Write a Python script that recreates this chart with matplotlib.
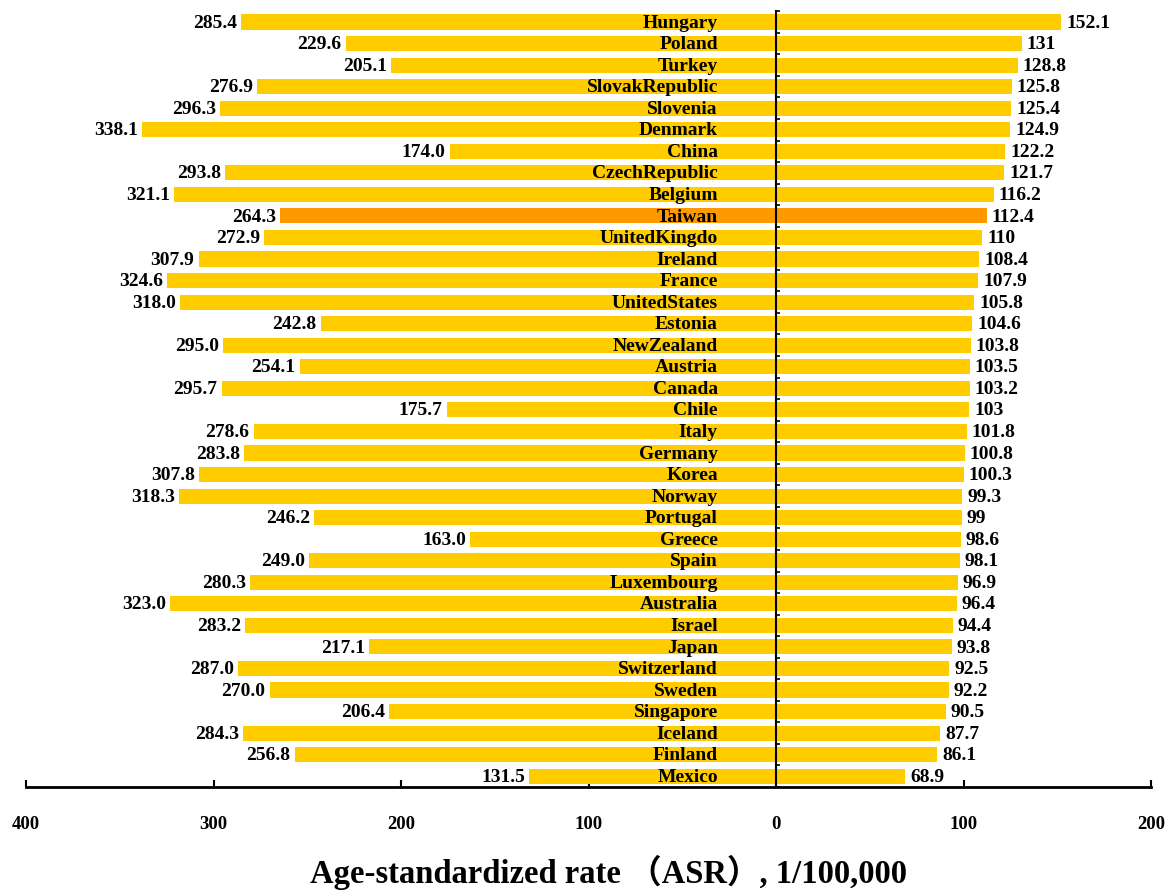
import numpy as np
import matplotlib
matplotlib.use("Agg")
import matplotlib.pyplot as plt

countries = ["Hungary", "Poland", "Turkey", "SlovakRepublic", "Slovenia", "Denmark",
             "China", "CzechRepublic", "Belgium", "Taiwan", "UnitedKingdo", "Ireland",
             "France", "UnitedStates", "Estonia", "NewZealand", "Austria", "Canada",
             "Chile", "Italy", "Germany", "Korea", "Norway", "Portugal", "Greece",
             "Spain", "Luxembourg", "Australia", "Israel", "Japan", "Switzerland",
             "Sweden", "Singapore", "Iceland", "Finland", "Mexico"]
left_values = [285.4, 229.6, 205.1, 276.9, 296.3, 338.1, 174.0, 293.8, 321.1, 264.3,
               272.9, 307.9, 324.6, 318.0, 242.8, 295.0, 254.1, 295.7, 175.7, 278.6,
               283.8, 307.8, 318.3, 246.2, 163.0, 249.0, 280.3, 323.0, 283.2, 217.1,
               287.0, 270.0, 206.4, 284.3, 256.8, 131.5]
right_values = [152.1, 131, 128.8, 125.8, 125.4, 124.9, 122.2, 121.7, 116.2, 112.4,
                110, 108.4, 107.9, 105.8, 104.6, 103.8, 103.5, 103.2, 103, 101.8,
                100.8, 100.3, 99.3, 99, 98.6, 98.1, 96.9, 96.4, 94.4, 93.8,
                92.5, 92.2, 90.5, 87.7, 86.1, 68.9]
highlight = "Taiwan"
x_ticks = [-400, -300, -200, -100, 0, 100, 200]
x_tick_labels = ["400", "300", "200", "100", "0", "100", "200"]
x_label = "Age-standardized rate （ASR）, 1/100,000"

BAR = "#FFCC00"
HIGHLIGHT = "#FF9900"
SERIF = ["Liberation Serif", "DejaVu Serif"]
LABEL_FONT = ["Liberation Serif", "Noto Sans CJK SC", "DejaVu Serif"]

fig = plt.figure(figsize=(11.68, 8.90), dpi=100)
W, H = 1168, 890
ax = fig.add_axes([26 / W, 1 - 787 / H, (1151 - 26) / W, (787 - 11.2) / H])

y = np.arange(len(countries))
colors = [HIGHLIGHT if c == highlight else BAR for c in countries]
lv = np.array(left_values)
rv = np.array(right_values)

ax.barh(y, -lv, height=0.7, color=colors, edgecolor="none", zorder=2)
ax.barh(y, rv, height=0.7, color=colors, edgecolor="none", zorder=2)

for yi, name, a, b in zip(y, countries, lv, rv):
    ax.text(-31, yi + 0.05, name, ha="right", va="center", fontsize=14,
            fontweight="bold", family=SERIF, zorder=3)
    ax.annotate(f"{a:.1f}", xy=(-a, yi + 0.05), xytext=(-3, 0), textcoords="offset points",
                ha="right", va="center", fontsize=14, fontweight="bold", family=SERIF)
    ax.annotate(f"{b:g}", xy=(b, yi + 0.05), xytext=(3.5, 0), textcoords="offset points",
                ha="left", va="center", fontsize=14, fontweight="bold", family=SERIF)

ax.set_xlim(-400, 200)
ax.set_ylim(len(countries) - 0.5, -0.5)

for s in ["top", "right"]:
    ax.spines[s].set_visible(False)
ax.spines["left"].set_position(("data", 0))
ax.spines["left"].set_linewidth(1.5)
ax.spines["left"].set_zorder(4)
ax.spines["bottom"].set_linewidth(2)

ax.set_yticks(np.arange(-0.5, len(countries), 1.0))
ax.set_yticklabels([])
ax.tick_params(axis="y", direction="in", length=3, width=1.2)

ax.set_xticks(x_ticks)
ax.set_xticklabels(x_tick_labels)
ax.tick_params(axis="x", direction="in", length=5, width=1.5, pad=21)
for lab in ax.get_xticklabels():
    lab.set_fontfamily(SERIF)
    lab.set_fontweight("bold")
    lab.set_fontsize(13.5)

fig.text(608 / W, 1 - 872 / H, x_label, ha="center", va="center",
         fontsize=23.5, fontweight="bold", family=LABEL_FONT)

fig.savefig("out.png", dpi=100)
